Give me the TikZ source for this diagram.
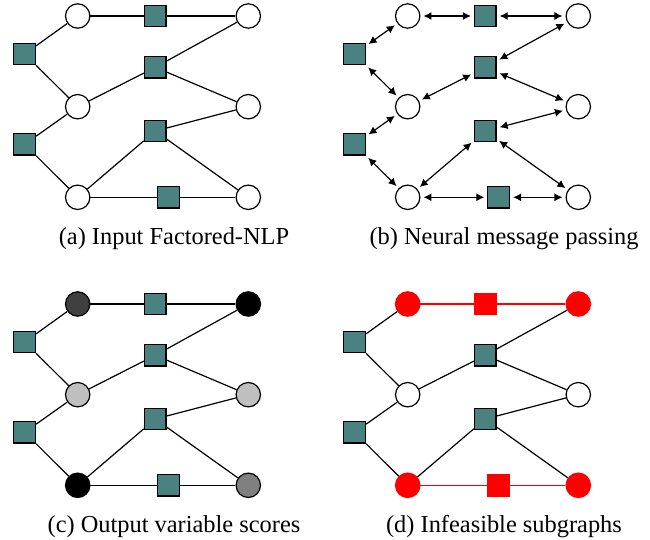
\documentclass[tikz,border=0pt]{standalone}
\usepackage{fontspec}
\setmainfont{Liberation Serif}
\usetikzlibrary{arrows.meta}
\definecolor{factorteal}{RGB}{74,130,130}

\begin{document}
\begin{tikzpicture}
[x=0.5pt,y=-0.5pt,line width=0.6pt,>={Latex[length=4pt,width=4pt]},
 var/.style={circle,draw,fill=white,minimum size=12.2pt,inner sep=0pt},
 factor/.style={rectangle,draw,fill=factorteal,minimum size=10.8pt,inner sep=0pt},
 msg/.style={<->,shorten <=1.5pt,shorten >=1.5pt},
 hot/.style={draw=red,fill=red},
 subcap/.style={anchor=base,font=\rmfamily},
 b-edge/.style={msg},
 c-n1/.style={fill=black!75}, c-n3/.style={fill=black},
 c-n6/.style={fill=black!25}, c-n7/.style={fill=black!25},
 c-n10/.style={fill=black}, c-n12/.style={fill=black!50},
 d-n1/.style={hot}, d-n2/.style={hot}, d-n3/.style={hot},
 d-n10/.style={hot}, d-n11/.style={hot}, d-n12/.style={hot},
 d-e1-2/.style={red}, d-e2-3/.style={red},
 d-e10-11/.style={red}, d-e11-12/.style={red}]
\fontsize{12.2}{14}\selectfont
\useasboundingbox (0,0) rectangle (650,540);
\foreach \p/\dx/\dy/\txt in {a/0/0/Input Factored-NLP,
                             b/330/0/Neural message passing,
                             c/0/288/Output variable scores,
                             d/330/288/Infeasible subgraphs}
{
  \begin{scope}[shift={(\dx,\dy)}]
    \node[var,\p-n1/.try]     (\p1)  at (77.7,16)    {};
    \node[factor,\p-n2/.try]  (\p2)  at (155.3,16)   {};
    \node[var,\p-n3/.try]     (\p3)  at (248.3,16)   {};
    \node[factor,\p-n4/.try]  (\p4)  at (24.7,54)    {};
    \node[factor,\p-n5/.try]  (\p5)  at (155.3,67.3) {};
    \node[var,\p-n6/.try]     (\p6)  at (77.7,106.7) {};
    \node[var,\p-n7/.try]     (\p7)  at (248.3,106.7) {};
    \node[factor,\p-n8/.try]  (\p8)  at (155.3,131)  {};
    \node[factor,\p-n9/.try]  (\p9)  at (24.7,144.3) {};
    \node[var,\p-n10/.try]    (\p10) at (77.7,197.3) {};
    \node[factor,\p-n11/.try] (\p11) at (168.7,197.3) {};
    \node[var,\p-n12/.try]    (\p12) at (248.3,197.3) {};
    \foreach \u/\w in {1/2,2/3,1/4,4/6,6/5,5/3,5/7,6/9,9/10,10/8,8/7,8/12,10/11,11/12}
      \draw[\p-edge/.try,\p-e\u-\w/.try] (\p\u) -- (\p\w);
    \node[subcap] (\p-cap) at (174,245) {(\p) \txt};
  \end{scope}
}
\end{tikzpicture}
\end{document}
